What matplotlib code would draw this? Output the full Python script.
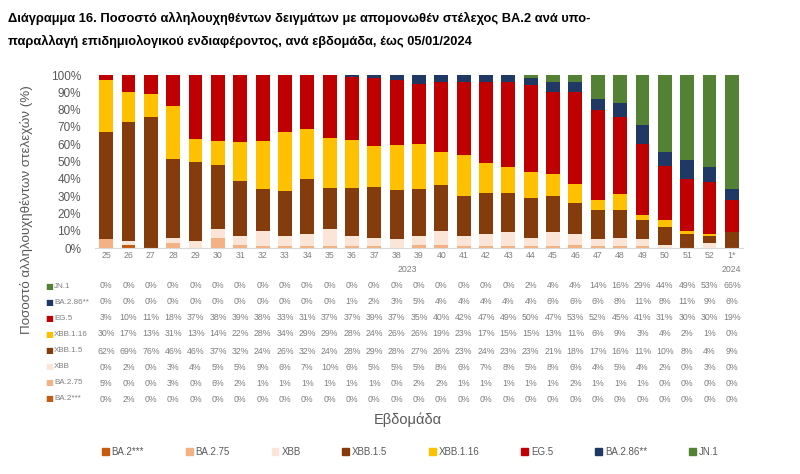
import numpy as np
import matplotlib
matplotlib.use("Agg")
import matplotlib.pyplot as plt
from matplotlib.transforms import blended_transform_factory
from matplotlib.patches import Patch

plt.rcParams['font.family'] = ['Liberation Sans', 'DejaVu Sans']

weeks = [str(w) for w in range(25, 53)] + ['1*']

# table / stack data, percent
variants = ['BA.2***', 'BA.2.75', 'XBB', 'XBB.1.5', 'XBB.1.16', 'EG.5', 'BA.2.86**', 'JN.1']
colors = ['#C55A11', '#F4B183', '#FBE5D6', '#843C0C', '#FFC000', '#C00000', '#203864', '#548235']

ba2 = [0, 2] + [0] * 27
ba275 = [5, 0, 0, 3, 0, 6, 2, 1, 1, 1, 1, 1, 1, 0, 2, 2,
         1, 1, 1, 1, 1, 2, 1, 1, 1, 0, 0, 0, 0]
xbb = [0, 2, 0, 3, 4, 5, 5, 9, 6, 7, 10, 6, 5, 5, 5, 8,
       6, 7, 8, 5, 8, 6, 4, 5, 4, 2, 0, 3, 0]
xbb15 = [62, 69, 76, 46, 46, 37, 32, 24, 26, 32, 24, 28, 29, 28, 27, 26,
         23, 24, 23, 23, 21, 18, 17, 16, 11, 10, 8, 4, 9]
xbb116 = [30, 17, 13, 31, 13, 14, 22, 28, 34, 29, 29, 28, 24, 26, 26, 19,
          23, 17, 15, 15, 13, 11, 6, 9, 3, 4, 2, 1, 0]
eg5 = [3, 10, 11, 18, 37, 38, 39, 38, 33, 31, 37, 37, 39, 37, 35, 40,
       42, 47, 49, 50, 47, 53, 52, 45, 41, 31, 30, 30, 19]
ba286 = [0] * 11 + [1, 2, 3, 5, 4, 4, 4, 4, 4, 6, 6, 6, 8, 11, 8, 11, 9, 6]
jn1 = [0] * 19 + [2, 4, 4, 14, 16, 29, 44, 49, 53, 66]

series = [ba2, ba275, xbb, xbb15, xbb116, eg5, ba286, jn1]

W, H = 800, 474
fig = plt.figure(figsize=(8, 4.74), dpi=100)
ax = fig.add_axes([95 / W, 1 - 248 / H, 648 / W, 173 / H])

data = np.array(series, dtype=float)
share = data / data.sum(axis=0) * 100
x = np.arange(len(weeks))
bottom = np.zeros(len(weeks))
for vals, col, name in zip(share, colors, variants):
    ax.bar(x, vals, 0.62, bottom=bottom, color=col, label=name)
    bottom += vals

ax.set_xlim(-0.5, len(weeks) - 0.5)
ax.set_ylim(0, 100)
ax.set_yticks(range(0, 101, 10))
ax.set_yticklabels([f'{v}%' for v in range(0, 101, 10)], fontsize=8.5, color='#595959')
ax.set_xticks([])
for s in ['top', 'right', 'left']:
    ax.spines[s].set_visible(False)
ax.spines['bottom'].set_color('#D9D9D9')
ax.tick_params(axis='y', length=0, pad=10)

gray = '#7F7F7F'
tr = blended_transform_factory(ax.transData, fig.transFigure)
def fy(py):
    return 1 - py / H

for i, w in enumerate(weeks):
    ax.text(i, fy(256), w, transform=tr, ha='center', va='center', fontsize=6.3, color=gray)
ax.text(13.5, fy(270), '2023', transform=tr, ha='center', va='center', fontsize=6.3, color=gray)
ax.text(28, fy(270), '2024', transform=tr, ha='center', va='center', fontsize=6.3, color=gray)

# data table, top row = JN.1
row_y = [286, 302, 318, 334, 351, 367, 383, 399]
for ry, k in zip(row_y, range(len(variants) - 1, -1, -1)):
    fig.text(45 / W, fy(ry), '\u25A0', color=colors[k], fontsize=6, ha='left', va='center',
             family='DejaVu Sans')
    fig.text(54 / W, fy(ry), variants[k], color=gray, fontsize=5.8, ha='left', va='center')
    for i, v in enumerate(series[k]):
        ax.text(i, fy(ry), f'{v}%', transform=tr, ha='center', va='center', fontsize=6.3, color=gray)

fig.text(408 / W, fy(420), 'Εβδομάδα', ha='center', va='center', fontsize=10.5, color='#595959')
fig.text(27 / W, fy(210), 'Ποσοστό αλληλουχηθέντων στελεχών (%)', rotation=90,
         ha='center', va='center', fontsize=9.6, color='#595959')

handles = [Patch(color=c, label=n) for c, n in zip(colors, variants)]
leg = fig.legend(handles=handles, loc='center', bbox_to_anchor=(410 / W, fy(452)), ncol=8,
                 frameon=False, fontsize=7, handlelength=0.7, handleheight=0.7,
                 handletextpad=0.3, columnspacing=4.3)
for t in leg.get_texts():
    t.set_color('#595959')

fig.text(8 / W, fy(18), 'Διάγραμμα 16. Ποσοστό αλληλουχηθέντων δειγμάτων με απομονωθέν στέλεχος BA.2 ανά υπο-',
         fontsize=9.3, fontweight='bold', ha='left', va='center')
fig.text(8 / W, fy(41), 'παραλλαγή επιδημιολογικού ενδιαφέροντος, ανά εβδομάδα, έως 05/01/2024',
         fontsize=9.3, fontweight='bold', ha='left', va='center')

fig.savefig('out.png', dpi=100)
